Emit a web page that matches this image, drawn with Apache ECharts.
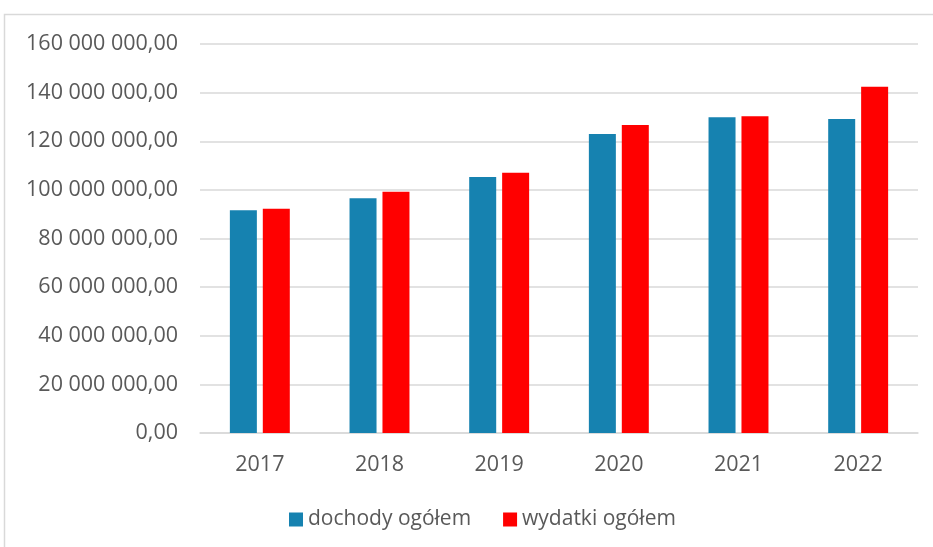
<!DOCTYPE html>
<html><head><meta charset="utf-8">
<script src="https://cdn.jsdelivr.net/npm/echarts@6/dist/echarts.min.js"></script>
<style>html,body{margin:0;padding:0;background:#fff}#c{width:933px;height:547px}</style>
</head><body><div id="c"></div>
<script>
const categories = ['2017','2018','2019','2020','2021','2022'];
const dochody = [91600000, 96600000, 105300000, 123000000, 129900000, 129200000];
const wydatki = [92200000, 99200000, 107000000, 126700000, 130300000, 142400000];
const seriesNames = ['dochody ogółem','wydatki ogółem'];

function fmt(v){
  const s = Math.round(v).toString().replace(/\B(?=(\d{3})+(?!\d))/g,' ');
  return s + ',00';
}
const font = '"Open Sans", sans-serif';
const chart = echarts.init(document.getElementById('c'));
chart.setOption({
  animation:false,
  backgroundColor:'#fff',
  graphic:[{type:'rect',shape:{x:4.5,y:14.5,width:1000,height:1000},style:{fill:'none',stroke:'#d9d9d9',lineWidth:1.5},silent:true}],
  grid:{left:200,right:15,top:44,bottom:114},
  legend:{bottom:12,left:284,itemWidth:14,itemHeight:14,itemGap:32,icon:'rect',
    textStyle:{fontFamily:font,fontSize:21,color:'#595959'},data:seriesNames},
  xAxis:{type:'category',data:categories,
    axisLine:{lineStyle:{color:'#d9d9d9',width:1.5}},axisTick:{show:false},
    axisLabel:{fontFamily:font,fontSize:21.5,color:'#595959',margin:21}},
  yAxis:{type:'value',min:0,max:160000000,interval:20000000,
    axisLine:{show:false},axisTick:{show:false},
    splitLine:{lineStyle:{color:'#d9d9d9',width:1.5}},
    axisLabel:{fontFamily:font,fontSize:21.5,color:'#595959',margin:22,formatter:fmt}},
  series:[
    {name:seriesNames[0],type:'bar',data:dochody,barWidth:27,barGap:'22%',itemStyle:{color:'#1682b0'}},
    {name:seriesNames[1],type:'bar',data:wydatki,barWidth:27,itemStyle:{color:'#ff0000'}}
  ]
});
</script></body></html>
